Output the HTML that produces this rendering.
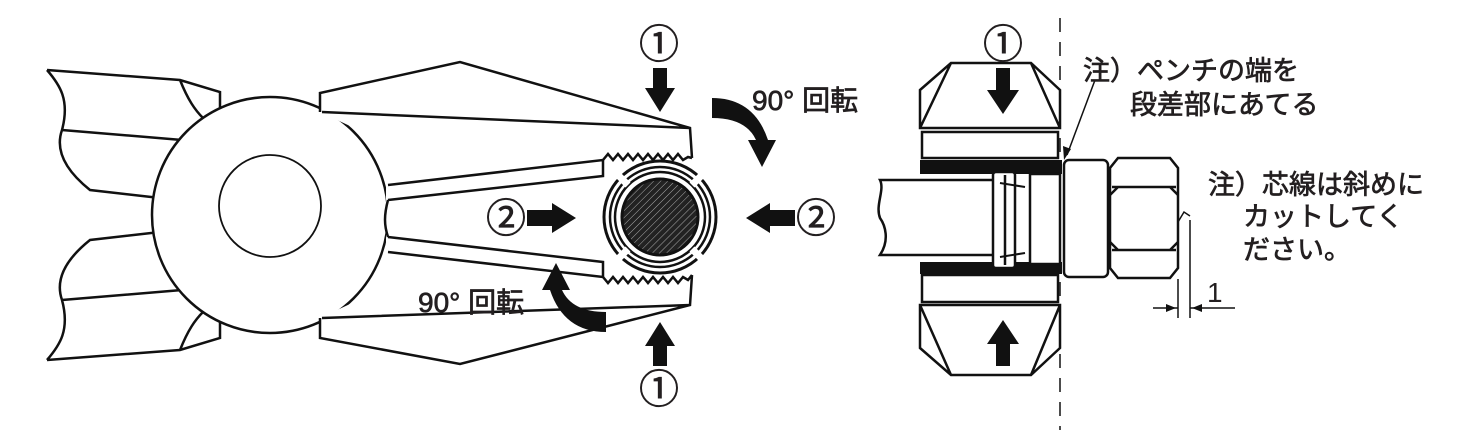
<!DOCTYPE html>
<html><head><meta charset="utf-8"><style>
html,body{margin:0;padding:0;background:#fff}
svg{display:block}
text{font-family:"Liberation Sans","Noto Sans CJK JP",sans-serif;fill:#231f20}
.j{stroke:#231f20;stroke-width:0.7}
</style></head><body>
<svg width="1459" height="430" viewBox="0 0 1459 430" xmlns="http://www.w3.org/2000/svg">
<defs>
<pattern id="h" width="5" height="5" patternUnits="userSpaceOnUse" patternTransform="rotate(45)">
<rect width="5" height="5" fill="#222"/><line x1="0" y1="0" x2="0" y2="5" stroke="#aaa" stroke-width="1"/>
</pattern>
</defs>
<g fill="none" stroke="#111" stroke-width="2.5" stroke-linejoin="miter">
<path d="M47,70 L180,80 L220,92 L220,125 M47,70 C60,85 70,100 62,130 C55,150 65,170 90,190 L160,198 M62,130 L182,140 M180,80 C188,100 195,110 203,118"/>
<path d="M47,360 L180,350 L220,338 L220,305 M47,360 C60,345 70,330 62,300 C55,280 65,260 90,240 L160,232 M62,300 L182,290 M180,350 C188,330 195,320 203,312"/>
<ellipse cx="270" cy="215" rx="118" ry="118" fill="#fff"/>
<path d="M320,93 L460,62 L690,128 L692,158 L603,160 L388,185 L380,140 L320,112 Z" fill="#fff" stroke="none"/>
<path d="M320,338 L460,364 L690,305 L692,275 L603,277 L388,252 L380,290 L320,318 Z" fill="#fff" stroke="none"/>
<path d="M320,112 L320,93 L460,62 L690,128 L692,158 M322,112 L690,128"/>
<path d="M320,318 L320,338 L460,364 L690,305 L692,275 M322,318 L690,305"/>
<rect x="386" y="186" width="10" height="65" fill="#fff" stroke="none"/>
<path d="M388,185 L603,160 L603,176 L388,200 M388,237 L603,262 L603,277 L388,252 M388,200 C384,215 384,225 388,237"/>
<path d="M603,160 l5,-6 l5,6 l5,-6 l5,6 l5,-6 l5,6 l5,-6 l5,6 l5,-6 l5,6 l5,-6 l5,6 l5,-6 l5,6 l5,-6 l5,6 l5,-3 L692,158"/>
<path d="M603,277 l5,6 l5,-6 l5,6 l5,-6 l5,6 l5,-6 l5,6 l5,-6 l5,6 l5,-6 l5,6 l5,-6 l5,6 l5,-6 l5,6 l5,-6 l5,3 L692,275"/>
<circle cx="270" cy="206" r="51" stroke-width="1.8"/>
</g>
<g stroke="#111" fill="none">
<circle cx="660" cy="217" r="56" fill="#fff" stroke-width="3"/>
<circle cx="660" cy="217" r="50" stroke-width="2.5"/>
<circle cx="660" cy="217" r="45" stroke-width="2.5"/>
<circle cx="660" cy="217" r="38" fill="url(#h)" stroke-width="3"/>
<g stroke="#fff" stroke-width="7">
<line x1="628" y1="185" x2="618" y2="175"/><line x1="692" y1="185" x2="702" y2="175"/>
<line x1="628" y1="249" x2="618" y2="259"/><line x1="692" y1="249" x2="702" y2="259"/>
</g>
</g>
<g fill="#111">
<polygon points="653,68 667,68 667,88 675,88 660,112 645,88 653,88"/>
<polygon points="653,366 667,366 667,346 675,346 660,322 645,346 653,346"/>
<polygon points="527,210 552,210 552,203 576,218 552,233 552,226 527,226"/>
<polygon points="795,210 770,210 770,203 746,218 770,233 770,226 795,226"/>
<path d="M712,98 Q754,98 768,140 L776,140 L762,167 L748,140 L756,140 Q746,118 712,118 Z"/>
<path d="M606,332 Q564,332 550,290 L542,290 L556,263 L570,290 L562,290 Q572,312 606,312 Z"/>
</g>
<g font-size="40" class="j">
<text x="639" y="58">①</text><text x="639" y="403">①</text>
<text x="486" y="232">②</text><text x="796" y="232">②</text>
</g>
<text x="752" y="110" font-size="28" class="j">90° 回転</text>
<text x="418" y="312" font-size="28" class="j">90° 回転</text>
<line x1="1060" y1="18" x2="1060" y2="430" stroke="#111" stroke-width="1.5" stroke-dasharray="14,10"/>
<g stroke="#111" stroke-width="2.5" fill="#fff">
<path d="M951,63 L1031,63 L1060,90 L1060,128 L920,128 L920,90 Z M920,128 L951,63 M1060,128 L1031,63"/>
<rect x="922" y="132" width="136" height="26"/>
<path d="M951,375 L1031,375 L1060,348 L1060,305 L920,305 L920,348 Z M920,305 L951,375 M1060,305 L1031,375"/>
<rect x="922" y="275" width="136" height="27"/>
</g>
<rect x="920" y="160" width="142" height="14" fill="#111"/>
<rect x="920" y="262" width="142" height="12" fill="#111"/>
<g stroke="#111" stroke-width="2.5" fill="#fff">
<path d="M880,180 L995,180 L995,255 L880,255 C890,240 885,225 880,218 C875,205 885,190 880,180 Z"/>
<rect x="1030" y="174" width="30" height="90"/>
<rect x="993" y="172" width="22" height="96" rx="3"/>
<line x1="1005" y1="175" x2="1005" y2="265"/>
<path d="M1000,183 L1025,187 M1000,257 L1025,253" stroke-width="2"/>
<rect x="1064" y="160" width="44" height="117" rx="5"/>
<path d="M1118,158 L1170,158 L1178,168 L1178,268 L1170,278 L1118,278 L1110,268 L1110,168 Z"/>
<path d="M1112,187 L1176,187 M1112,250 L1176,250 M1110,195 L1118,187 M1178,195 L1170,187 M1110,242 L1118,250 M1178,242 L1170,250"/>
</g>
<g stroke="#111" stroke-width="1.5" fill="none">
<line x1="1178" y1="279" x2="1178" y2="318"/><line x1="1190" y1="220" x2="1190" y2="318"/>
<path d="M1178,222 L1184,212 L1190,216"/>
<line x1="1153" y1="308" x2="1178" y2="308"/><line x1="1190" y1="308" x2="1235" y2="308"/>
<line x1="1095" y1="80" x2="1067" y2="155"/>
</g>
<polygon points="1176,308 1166,304 1166,312" fill="#111"/>
<polygon points="1192,308 1202,304 1202,312" fill="#111"/>
<polygon points="1064,160 1063,146 1071,149" fill="#111"/>
<text x="1207" y="302" font-size="28">1</text>
<text x="983" y="58" font-size="40" class="j">①</text>
<polygon points="996,68 1010,68 1010,90 1019,90 1003,114 987,90 996,90" fill="#111"/>
<polygon points="996,366 1010,366 1010,344 1019,344 1003,320 987,344 996,344" fill="#111"/>
<g font-size="27" class="j">
<text x="1083" y="80">注）ペンチの端を</text>
<text x="1130" y="114">段差部にあてる</text>
<text x="1208" y="194">注）芯線は斜めに</text>
<text x="1243" y="226">カットしてく</text>
<text x="1243" y="259">ださい。</text>
</g>
</svg>
</body></html>
